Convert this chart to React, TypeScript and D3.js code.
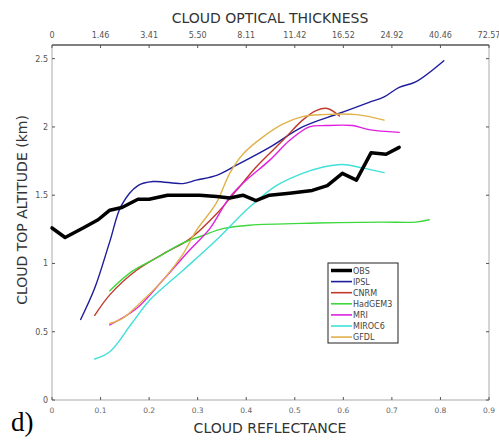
import React from "react";
import * as d3 from "d3";

type Pt = [number, number];

const refTicks = [0, 0.1, 0.2, 0.3, 0.4, 0.5, 0.6, 0.7, 0.8, 0.9];
const refTickLabels = ["0", "0.1", "0.2", "0.3", "0.4", "0.5", "0.6", "0.7", "0.8", "0.9"];
const cotTickLabels = ["0", "1.46", "3.41", "5.50", "8.11", "11.42", "16.52", "24.92", "40.46", "72.57"];
const altTicks = [0, 0.5, 1, 1.5, 2, 2.5];
const altTickLabels = ["0", "0.5", "1", "1.5", "2", "2.5"];

const obs: Pt[] = [
  [0, 1.26], [0.027, 1.19], [0.064, 1.26], [0.095, 1.32], [0.119, 1.39], [0.144, 1.41],
  [0.177, 1.47], [0.2, 1.47], [0.238, 1.5], [0.304, 1.5], [0.339, 1.49], [0.366, 1.48],
  [0.393, 1.5], [0.42, 1.46], [0.448, 1.5], [0.489, 1.515], [0.536, 1.535], [0.567, 1.57],
  [0.598, 1.66], [0.627, 1.61], [0.657, 1.81], [0.688, 1.8], [0.715, 1.85],
];
const ipsl: Pt[] = [
  [0.059, 0.59], [0.088, 0.82], [0.119, 1.16], [0.143, 1.425], [0.177, 1.57], [0.208, 1.6],
  [0.27, 1.585], [0.297, 1.61], [0.339, 1.645], [0.38, 1.72], [0.448, 1.85], [0.516, 2.0],
  [0.592, 2.1], [0.653, 2.18], [0.684, 2.22], [0.715, 2.29], [0.749, 2.33], [0.807, 2.485],
];
const cnrm: Pt[] = [
  [0.088, 0.62], [0.119, 0.77], [0.174, 0.95], [0.229, 1.07], [0.284, 1.18], [0.338, 1.36],
  [0.38, 1.535], [0.42, 1.705], [0.475, 1.9], [0.516, 2.05], [0.544, 2.12], [0.567, 2.135],
  [0.592, 2.08],
];
const hadgem3: Pt[] = [
  [0.119, 0.8], [0.164, 0.94], [0.215, 1.04], [0.27, 1.15], [0.311, 1.205], [0.352, 1.255],
  [0.407, 1.28], [0.544, 1.296], [0.68, 1.303], [0.749, 1.303], [0.777, 1.32],
];
const mri: Pt[] = [
  [0.119, 0.55], [0.174, 0.67], [0.229, 0.88], [0.284, 1.1], [0.325, 1.255], [0.366, 1.486],
  [0.4, 1.61], [0.448, 1.755], [0.489, 1.9], [0.53, 2.0], [0.564, 2.01], [0.619, 2.01],
  [0.653, 1.98], [0.715, 1.96],
];
const miroc6: Pt[] = [
  [0.088, 0.3], [0.119, 0.353], [0.164, 0.56], [0.201, 0.73], [0.27, 0.95], [0.338, 1.17],
  [0.407, 1.413], [0.462, 1.57], [0.516, 1.66], [0.557, 1.705], [0.598, 1.725], [0.639, 1.7],
  [0.684, 1.665],
];
const gfdl: Pt[] = [
  [0.119, 0.56], [0.146, 0.6], [0.187, 0.73], [0.229, 0.88], [0.27, 1.07], [0.297, 1.24],
  [0.338, 1.44], [0.366, 1.66], [0.393, 1.8], [0.434, 1.925], [0.475, 2.02], [0.516, 2.075],
  [0.557, 2.09], [0.627, 2.09], [0.684, 2.05],
];

const seriesNames = ["OBS", "IPSL", "CNRM", "HadGEM3", "MRI", "MIROC6", "GFDL"];
const seriesData = [obs, ipsl, cnrm, hadgem3, mri, miroc6, gfdl];
const seriesColors = ["#000000", "#1c1c9c", "#c0392b", "#3cd83c", "#e020e0", "#40e0d8", "#e0b24a"];
const seriesWidths = [3.5, 1.4, 1.4, 1.4, 1.4, 1.4, 1.4];

const W = 499;
const H = 440;
const left = 52;
const right = 489;
const top = 45;
const bottom = 400;

export default function App() {
  const x = d3.scaleLinear().domain([0, 0.9]).range([left, right]);
  const y = d3.scaleLinear().domain([0, 2.6]).range([bottom, top]);
  const obsLine = d3
    .line<Pt>()
    .x((d) => x(d[0]))
    .y((d) => y(d[1]))
    .curve(d3.curveLinear);
  const modelLine = d3
    .line<Pt>()
    .x((d) => x(d[0]))
    .y((d) => y(d[1]))
    .curve(d3.curveCatmullRom.alpha(0.5));

  const font = "'DejaVu Sans', 'Open Sans', sans-serif";
  const tickColor = "#666";

  return (
    <svg
      width={W}
      height={H}
      viewBox={`0 0 ${W} ${H}`}
      style={{ position: "absolute", left: 0, top: 0, background: "#fff" }}
    >
      <rect x={0} y={0} width={W} height={H} fill="#fff" />

      {/* frame */}
      <line x1={left} x2={right} y1={bottom} y2={bottom} stroke="#aaa" strokeWidth={1} />
      <line x1={left} x2={left} y1={top} y2={bottom} stroke="#aaa" strokeWidth={1} />
      <line x1={right} x2={right} y1={top} y2={bottom} stroke="#aaa" strokeWidth={1} />
      <line x1={left} x2={right} y1={top} y2={top} stroke="#555" strokeWidth={1.5} />

      {/* bottom / top ticks */}
      {refTicks.map((t, i) => (
        <g key={`xt${i}`}>
          <line x1={x(t)} x2={x(t)} y1={bottom} y2={bottom - 3} stroke="#555" strokeWidth={1} />
          <line x1={x(t)} x2={x(t)} y1={top} y2={top + 3} stroke="#555" strokeWidth={1} />
          <text x={x(t)} y={413} fontSize={7.5} fill={tickColor} textAnchor="middle" fontFamily={font}>
            {refTickLabels[i]}
          </text>
          <text x={x(t)} y={38} fontSize={8} fill="#555" textAnchor="middle" fontFamily={font}>
            {cotTickLabels[i]}
          </text>
        </g>
      ))}

      {/* left / right ticks */}
      {altTicks.map((t, i) => (
        <g key={`yt${i}`}>
          <line x1={left} x2={left + 3} y1={y(t)} y2={y(t)} stroke="#555" strokeWidth={1} />
          <line x1={right} x2={right - 3} y1={y(t)} y2={y(t)} stroke="#555" strokeWidth={1} />
          <text x={48} y={y(t) + 3} fontSize={8} fill="#555" textAnchor="end" fontFamily={font}>
            {altTickLabels[i]}
          </text>
        </g>
      ))}

      {/* model series */}
      {seriesData.map((d, i) =>
        i === 0 ? null : (
          <path
            key={seriesNames[i]}
            d={modelLine(d) ?? ""}
            fill="none"
            stroke={seriesColors[i]}
            strokeWidth={seriesWidths[i]}
            strokeLinejoin="round"
            strokeLinecap="round"
          />
        )
      )}
      {/* observations drawn on top */}
      <path
        d={obsLine(obs) ?? ""}
        fill="none"
        stroke={seriesColors[0]}
        strokeWidth={seriesWidths[0]}
        strokeLinejoin="round"
        strokeLinecap="round"
      />

      {/* legend */}
      <g>
        <rect x={328} y={263} width={70} height={80} fill="#fff" stroke="#222" strokeWidth={1} />
        {seriesNames.map((n, i) => {
          const ly = 270.5 + i * 11.1;
          return (
            <g key={`lg${n}`}>
              <line
                x1={331}
                x2={352}
                y1={ly}
                y2={ly}
                stroke={seriesColors[i]}
                strokeWidth={i === 0 ? 3.5 : 1.6}
              />
              <text x={353} y={ly + 3} fontSize={8} fill="#444" fontFamily={font}>
                {n}
              </text>
            </g>
          );
        })}
      </g>

      {/* titles */}
      <text x={270} y={23} fontSize={14} fill="#333" textAnchor="middle" fontFamily={font}>
        CLOUD OPTICAL THICKNESS
      </text>
      <text x={270} y={433} fontSize={14} fill="#333" textAnchor="middle" fontFamily={font}>
        CLOUD REFLECTANCE
      </text>
      <text
        transform={`translate(27, 210) rotate(-90)`}
        fontSize={14}
        fill="#333"
        textAnchor="middle"
        fontFamily={font}
      >
        CLOUD TOP ALTITUDE (km)
      </text>
      <text x={11} y={431} fontSize={27} fill="#000" fontFamily="'Liberation Serif', 'DejaVu Serif', serif">
        d)
      </text>
    </svg>
  );
}
